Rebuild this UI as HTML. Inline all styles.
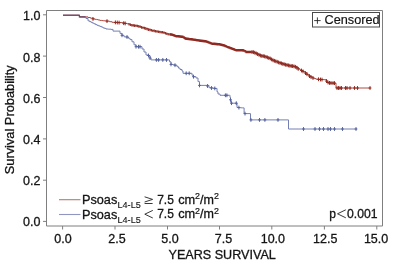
<!DOCTYPE html>
<html><head><meta charset="utf-8">
<style>
html,body{margin:0;padding:0;background:#fff;}
body{width:400px;height:266px;overflow:hidden;position:relative;font-family:"Liberation Sans",sans-serif;}
svg{position:absolute;left:0;top:0;}
text{stroke:#1a1a1a;stroke-width:0.3px;}
.sm{stroke-width:0.12px;}
.sup{stroke-width:0.22px;}
#wrap{position:absolute;left:0;top:0;width:400px;height:266px;will-change:transform;}
</style></head><body><div id="wrap">
<svg width="400" height="266" viewBox="0 0 400 266" font-family="Liberation Sans, sans-serif">
<rect x="0" y="0" width="400" height="266" fill="#fff"/>
<g stroke="#7f7f7f" stroke-width="1" fill="none">
<path d="M46.5 10.5 H382.5 V226 M46.5 10.5 V226 H382.5"/>
<path d="M43 14.8 H46.5 M43 56.1 H46.5 M43 97.5 H46.5 M43 138.9 H46.5 M43 180.2 H46.5 M43 221.4 H46.5"/>
<path d="M62.6 226 V229.5 M115 226 V229.5 M167.5 226 V229.5 M219.5 226 V229.5 M271.8 226 V229.5 M324.4 226 V229.5 M376.8 226 V229.5"/>
</g>
<g font-size="12.5" fill="#111" text-anchor="end">
<text x="40.4" y="20.4">1.0</text>
<text x="40.4" y="62">0.8</text>
<text x="40.4" y="102.8">0.6</text>
<text x="40.4" y="144.3">0.4</text>
<text x="40.4" y="184.8">0.2</text>
<text x="40.4" y="226.3">0.0</text>
</g>
<g font-size="12.5" fill="#111" text-anchor="middle">
<text x="63" y="242.8">0.0</text>
<text x="117" y="242.8">2.5</text>
<text x="170" y="242.8">5.0</text>
<text x="223.4" y="242.8">7.5</text>
<text x="272.9" y="242.8">10.0</text>
<text x="325.2" y="242.8">12.5</text>
<text x="376.1" y="242.8">15.0</text>
</g>
<text x="222.2" y="258.6" font-size="12.6" fill="#111" text-anchor="middle">YEARS SURVIVAL</text>
<text transform="translate(14.2,119.8) rotate(-90)" font-size="12.8" fill="#111" text-anchor="middle">Survival Probability</text>
<path d="M63.0 15.2 L79.0 15.2 L79.5 15.2 L79.5 16.9 L81.8 16.9 L81.8 16.9 L84.0 16.9 L84.0 17.0 L86.0 17.0 L86.0 18.5 L88.0 18.5 L88.0 20.8 L89.5 20.8 L89.5 21.6 L91.0 21.6 L91.0 22.3 L92.5 22.3 L92.5 23.1 L94.0 23.1 L94.0 23.8 L95.5 23.8 L95.5 24.6 L97.0 24.6 L97.0 25.3 L98.5 25.3 L98.5 25.9 L100.0 25.9 L100.0 26.4 L101.5 26.4 L101.5 27.1 L103.0 27.1 L103.0 27.9 L104.5 27.9 L104.5 28.4 L106.0 28.4 L106.0 29.0 L108.5 29.0 L108.5 29.2 L111.0 29.2 L111.0 29.4 L113.0 29.4 L113.0 31.1 L118.0 31.1 L120.0 31.1 L120.0 33.4 L122.0 33.4 L122.0 35.3 L124.0 35.3 L124.0 36.8 L125.5 36.8 L125.5 36.9 L127.0 36.9 L127.0 37.0 L128.5 37.0 L128.5 38.3 L130.0 38.3 L130.0 39.6 L132.0 39.6 L132.0 41.8 L134.0 41.8 L134.0 44.8 L136.0 44.8 L136.0 46.7 L140.0 46.7 L142.0 46.7 L142.0 49.0 L144.0 49.0 L144.0 52.0 L146.0 52.0 L146.0 55.0 L148.5 55.0 L148.5 55.5 L150.0 55.5 L150.0 58.0 L151.0 58.0 L151.0 59.9 L169.5 59.9 L169.5 61.8 L171.0 61.8 L171.0 64.4 L173.0 64.4 L173.0 64.8 L175.0 64.8 L175.0 65.2 L177.0 65.2 L177.0 66.7 L178.5 66.7 L178.5 68.1 L180.0 68.1 L180.0 69.5 L182.0 69.5 L182.0 71.0 L183.0 71.0 L183.0 73.3 L191.0 73.3 L192.0 73.3 L192.0 75.2 L193.5 75.2 L193.5 76.7 L196.0 76.7 L196.0 78.0 L198.0 78.0 L198.0 81.6 L199.5 81.6 L199.5 85.4 L207.0 85.4 L209.0 85.4 L209.0 87.7 L211.0 87.7 L211.0 87.9 L213.0 87.9 L213.0 88.2 L215.0 88.2 L215.0 88.4 L217.0 88.4 L217.0 91.8 L218.0 91.8 L218.0 94.0 L220.0 94.0 L220.0 95.3 L229.5 95.3 L230.0 95.3 L230.0 97.5 L230.5 97.5 L230.5 99.8 L231.0 99.8 L231.0 103.2 L236.5 103.2 L237.0 103.2 L237.0 107.5 L238.8 107.5 L238.8 107.6 L240.6 107.6 L240.6 107.8 L242.3 107.8 L242.3 107.9 L244.1 107.9 L244.1 108.0 L244.1 113.6 L250.5 113.6 L250.5 119.9 L288.5 119.9 L288.5 129.0 L357.0 129.0" stroke="#7480b4" stroke-width="1" fill="none"/>
<path d="M122.0 33.4 V37.2 M120.6 35.3 H123.4 M127.0 35.1 V38.9 M125.6 37.0 H128.4 M136.0 44.8 V48.6 M134.6 46.7 H137.4 M138.5 44.8 V48.6 M137.1 46.7 H139.9 M140.0 44.8 V48.6 M138.6 46.7 H141.4 M148.5 53.6 V57.4 M147.1 55.5 H149.9 M150.0 56.1 V59.9 M148.6 58.0 H151.4 M156.4 58.0 V61.8 M155.0 59.9 H157.8 M158.6 58.0 V61.8 M157.2 59.9 H160.0 M162.8 58.0 V61.8 M161.4 59.9 H164.2 M166.5 58.0 V61.8 M165.1 59.9 H167.9 M171.0 62.5 V66.3 M169.6 64.4 H172.4 M175.0 63.3 V67.1 M173.6 65.2 H176.4 M186.2 71.4 V75.2 M184.8 73.3 H187.6 M189.2 71.4 V75.2 M187.8 73.3 H190.6 M193.5 74.8 V78.6 M192.1 76.7 H194.9 M199.5 83.5 V87.3 M198.1 85.4 H200.9 M207.5 84.1 V87.9 M206.1 86.0 H208.9 M211.5 86.1 V89.9 M210.1 88.0 H212.9 M214.8 86.5 V90.3 M213.4 88.4 H216.2 M225.4 93.4 V97.2 M224.0 95.3 H226.8 M226.9 93.4 V97.2 M225.5 95.3 H228.3 M230.5 97.9 V101.7 M229.1 99.8 H231.9 M231.5 101.3 V105.1 M230.1 103.2 H232.9 M236.3 101.3 V105.1 M234.9 103.2 H237.7 M238.9 105.7 V109.5 M237.5 107.6 H240.3 M245.0 111.7 V115.5 M243.6 113.6 H246.4 M250.9 118.0 V121.8 M249.5 119.9 H252.3 M259.5 118.0 V121.8 M258.1 119.9 H260.9 M264.9 118.0 V121.8 M263.5 119.9 H266.3 M278.0 118.0 V121.8 M276.6 119.9 H279.4 M303.5 127.1 V130.9 M302.1 129.0 H304.9 M315.0 127.1 V130.9 M313.6 129.0 H316.4 M319.5 127.1 V130.9 M318.1 129.0 H320.9 M323.5 127.1 V130.9 M322.1 129.0 H324.9 M328.0 127.1 V130.9 M326.6 129.0 H329.4 M330.5 127.1 V130.9 M329.1 129.0 H331.9 M334.5 127.1 V130.9 M333.1 129.0 H335.9 M342.5 127.1 V130.9 M341.1 129.0 H343.9 M356.0 127.1 V130.9 M354.6 129.0 H357.4 " stroke="#56629a" stroke-width="1" fill="none"/>
<path d="M63.0 15.2 L79.0 15.2 L79.5 15.2 L79.5 16.9 L85.5 16.9 L88.0 16.9 L88.0 17.5 L90.5 17.5 L90.5 18.2 L93.0 18.2 L93.0 18.9 L94.8 18.9 L94.8 19.3 L96.5 19.3 L96.5 19.6 L98.2 19.6 L98.2 20.0 L100.0 20.0 L100.0 20.4 L101.8 20.4 L101.8 20.6 L103.5 20.6 L103.5 20.8 L105.2 20.8 L105.2 20.9 L107.0 20.9 L107.0 21.1 L109.5 21.1 L109.5 21.7 L112.0 21.7 L112.0 22.3 L114.0 22.3 L114.0 22.4 L116.0 22.4 L116.0 22.5 L118.0 22.5 L118.0 22.5 L120.0 22.5 L120.0 22.6 L122.5 22.6 L122.5 23.0 L125.0 23.0 L125.0 23.4 L127.0 23.4 L127.0 23.8 L129.0 23.8 L129.0 24.2 L130.5 24.2 L130.5 24.8 L132.0 24.8 L132.0 25.3 L134.0 25.3 L134.0 25.5 L136.0 25.5 L136.0 25.7 L137.5 25.7 L137.5 26.0 L139.0 26.0 L139.0 26.4 L140.5 26.4 L140.5 26.9 L142.0 26.9 L142.0 27.5 L144.0 27.5 L144.0 27.9 L146.0 27.9 L146.0 28.6 L148.0 28.6 L148.0 29.4 L150.0 29.4 L150.0 29.9 L152.0 29.9 L152.0 30.5 L154.0 30.5 L154.0 30.9 L156.0 30.9 L156.0 31.3 L158.0 31.3 L158.0 31.6 L160.0 31.6 L160.0 32.0 L161.5 32.0 L161.5 32.2 L163.0 32.2 L163.0 32.4 L165.0 32.4 L165.0 33.2 L166.5 33.2 L166.5 33.7 L168.0 33.7 L168.0 34.2 L170.0 34.2 L170.0 34.4 L172.0 34.4 L172.0 34.6 L174.0 34.6 L174.0 35.4 L176.0 35.4 L176.0 36.2 L178.0 36.2 L178.0 36.4 L180.0 36.4 L180.0 36.5 L181.5 36.5 L181.5 36.7 L183.0 36.7 L183.0 36.9 L185.0 36.9 L185.0 38.4 L187.5 38.4 L187.5 38.8 L190.0 38.8 L190.0 39.2 L191.5 39.2 L191.5 39.4 L193.0 39.4 L193.0 39.5 L194.5 39.5 L194.5 39.8 L196.0 39.8 L196.0 40.0 L198.0 40.0 L198.0 40.3 L200.0 40.3 L200.0 40.6 L201.5 40.6 L201.5 40.8 L203.0 40.8 L203.0 41.0 L204.5 41.0 L204.5 41.2 L206.0 41.2 L206.0 41.4 L207.5 41.4 L207.5 42.0 L209.0 42.0 L209.0 42.5 L210.5 42.5 L210.5 43.1 L212.0 43.1 L212.0 43.7 L214.0 43.7 L214.0 43.9 L216.0 43.9 L216.0 44.0 L218.0 44.0 L218.0 44.2 L220.0 44.2 L220.0 44.4 L222.0 44.4 L222.0 44.9 L224.0 44.9 L224.0 45.4 L225.5 45.4 L225.5 46.1 L227.0 46.1 L227.0 46.8 L228.5 46.8 L228.5 47.3 L230.0 47.3 L230.0 47.9 L231.5 47.9 L231.5 48.5 L233.0 48.5 L233.0 49.0 L234.5 49.0 L234.5 49.6 L236.0 49.6 L236.0 50.2 L240.0 50.2 L242.0 50.2 L242.0 50.4 L244.0 50.4 L244.0 50.5 L246.0 50.5 L246.0 52.0 L253.0 52.0 L255.0 52.0 L255.0 52.8 L256.5 52.8 L256.5 53.5 L258.0 53.5 L258.0 54.3 L259.5 54.3 L259.5 55.0 L261.0 55.0 L261.0 55.8 L262.5 55.8 L262.5 56.0 L264.0 56.0 L264.0 56.2 L265.5 56.2 L265.5 56.8 L267.0 56.8 L267.0 57.3 L268.5 57.3 L268.5 57.8 L270.0 57.8 L270.0 58.4 L271.5 58.4 L271.5 59.3 L273.0 59.3 L273.0 60.3 L274.5 60.3 L274.5 60.8 L276.0 60.8 L276.0 61.4 L277.5 61.4 L277.5 62.0 L279.0 62.0 L279.0 62.5 L281.5 62.5 L281.5 63.4 L284.0 63.4 L284.0 64.3 L285.5 64.3 L285.5 64.7 L287.0 64.7 L287.0 65.0 L288.5 65.0 L288.5 65.4 L290.0 65.4 L290.0 65.8 L291.5 65.8 L291.5 66.0 L293.0 66.0 L293.0 66.2 L294.5 66.2 L294.5 66.6 L296.0 66.6 L296.0 66.9 L298.0 66.9 L298.0 68.8 L300.0 68.8 L300.0 69.9 L302.0 69.9 L302.0 70.7 L303.5 70.7 L303.5 71.7 L305.0 71.7 L305.0 72.7 L307.0 72.7 L307.0 74.3 L308.5 74.3 L308.5 75.4 L310.0 75.4 L310.0 76.5 L311.5 76.5 L311.5 77.2 L313.0 77.2 L313.0 78.0 L314.5 78.0 L314.5 78.6 L316.0 78.6 L316.0 79.2 L318.5 79.2 L318.5 79.3 L321.0 79.3 L321.0 79.5 L323.5 79.5 L323.5 79.7 L326.0 79.7 L326.0 79.9 L327.0 79.9 L327.0 82.2 L328.5 82.2 L328.5 82.6 L330.0 82.6 L330.0 83.0 L331.8 83.0 L331.8 83.0 L333.7 83.0 L333.7 83.1 L335.5 83.1 L335.5 83.1 L336.0 83.1 L336.0 88.0 L370.5 88.0" stroke="#b04a40" stroke-width="1" fill="none"/>
<path d="M93.0 17.0 V20.8 M91.6 18.9 H94.4 M107.0 19.2 V23.0 M105.6 21.1 H108.4 M115.4 20.5 V24.3 M114.0 22.4 H116.8 M117.3 20.6 V24.4 M115.9 22.5 H118.7 M119.1 20.7 V24.5 M117.7 22.6 H120.5 M123.7 21.3 V25.1 M122.3 23.2 H125.1 M125.2 21.5 V25.3 M123.8 23.4 H126.6 M252.0 50.1 V53.9 M250.6 52.0 H253.4 M253.4 50.3 V54.1 M252.0 52.2 H254.8 M254.8 50.8 V54.6 M253.4 52.7 H256.2 M256.2 51.5 V55.3 M254.8 53.4 H257.6 M257.6 52.2 V56.0 M256.2 54.1 H259.0 M259.0 52.9 V56.7 M257.6 54.8 H260.4 M260.4 53.6 V57.4 M259.0 55.5 H261.8 M261.8 54.0 V57.8 M260.4 55.9 H263.2 M263.2 54.2 V58.0 M261.8 56.1 H264.6 M264.6 54.5 V58.3 M263.2 56.4 H266.0 M266.0 55.0 V58.8 M264.6 56.9 H267.4 M267.4 55.5 V59.3 M266.0 57.4 H268.8 M268.8 56.1 V59.9 M267.4 58.0 H270.2 M270.2 56.6 V60.4 M268.8 58.5 H271.6 M271.6 57.5 V61.3 M270.2 59.4 H273.0 M273.0 58.4 V62.2 M271.6 60.3 H274.4 M274.4 58.9 V62.7 M273.0 60.8 H275.8 M275.8 59.4 V63.2 M274.4 61.3 H277.2 M277.2 59.9 V63.7 M275.8 61.8 H278.6 M278.6 60.5 V64.3 M277.2 62.4 H280.0 M280.0 61.0 V64.8 M278.6 62.9 H281.4 M281.4 61.5 V65.3 M280.0 63.4 H282.8 M282.8 62.0 V65.8 M281.4 63.9 H284.2 M284.2 62.4 V66.2 M282.8 64.3 H285.6 M285.6 62.8 V66.6 M284.2 64.7 H287.0 M287.0 63.1 V66.9 M285.6 65.0 H288.4 M288.4 63.5 V67.3 M287.0 65.4 H289.8 M289.8 63.8 V67.6 M288.4 65.7 H291.2 M291.2 64.1 V67.9 M289.8 66.0 H292.6 M292.6 64.2 V68.0 M291.2 66.1 H294.0 M294.0 64.5 V68.3 M292.6 66.4 H295.4 M295.4 64.9 V68.7 M294.0 66.8 H296.8 M296.8 65.8 V69.6 M295.4 67.7 H298.2 M298.2 67.0 V70.8 M296.8 68.9 H299.6 M301.5 68.6 V72.4 M300.1 70.5 H302.9 M303.0 69.5 V73.3 M301.6 71.4 H304.4 M305.5 71.2 V75.0 M304.1 73.1 H306.9 M307.0 72.4 V76.2 M305.6 74.3 H308.4 M309.5 74.2 V78.0 M308.1 76.1 H310.9 M311.0 75.1 V78.9 M309.6 77.0 H312.4 M313.0 76.1 V79.9 M311.6 78.0 H314.4 M318.5 77.4 V81.2 M317.1 79.3 H319.9 M320.5 77.6 V81.4 M319.1 79.5 H321.9 M322.0 77.7 V81.5 M320.6 79.6 H323.4 M326.5 79.2 V83.0 M325.1 81.1 H327.9 M328.0 80.6 V84.4 M326.6 82.5 H329.4 M329.5 81.0 V84.8 M328.1 82.9 H330.9 M331.0 81.1 V84.9 M329.6 83.0 H332.4 M333.0 81.2 V85.0 M331.6 83.1 H334.4 M334.5 81.2 V85.0 M333.1 83.1 H335.9 M337.0 86.1 V89.9 M335.6 88.0 H338.4 M338.5 86.1 V89.9 M337.1 88.0 H339.9 M340.0 86.1 V89.9 M338.6 88.0 H341.4 M341.5 86.1 V89.9 M340.1 88.0 H342.9 M345.5 86.1 V89.9 M344.1 88.0 H346.9 M347.0 86.1 V89.9 M345.6 88.0 H348.4 M350.0 86.1 V89.9 M348.6 88.0 H351.4 M354.5 86.1 V89.9 M353.1 88.0 H355.9 M357.5 86.1 V89.9 M356.1 88.0 H358.9 M370.0 86.1 V89.9 M368.6 88.0 H371.4 " stroke="#8f2a22" stroke-width="1" fill="none"/>
<path d="M129.0 22.9 V25.5 M130.4 23.4 V26.0 M131.8 23.9 V26.5 M133.2 24.1 V26.7 M134.6 24.3 V26.9 M136.0 24.4 V27.0 M137.4 24.7 V27.3 M138.8 25.1 V27.7 M140.2 25.5 V28.1 M141.6 26.1 V28.7 M143.0 26.4 V29.0 M144.4 26.8 V29.4 M145.8 27.3 V29.9 M147.2 27.8 V30.4 M148.6 28.3 V30.9 M150.0 28.6 V31.2 M151.4 29.0 V31.6 M152.8 29.4 V32.0 M154.2 29.6 V32.2 M155.6 29.9 V32.5 M157.0 30.2 V32.8 M158.4 30.4 V33.0 M159.8 30.7 V33.3 M161.2 30.9 V33.5 M162.6 31.0 V33.6 M164.0 31.5 V34.1 M165.4 32.0 V34.6 M166.8 32.5 V35.1 M168.2 32.9 V35.5 M170.0 33.1 V35.7 M171.0 33.2 V35.8 M172.0 33.3 V35.9 M173.0 33.7 V36.3 M174.0 34.1 V36.7 M175.0 34.5 V37.1 M176.0 34.9 V37.5 M177.0 35.0 V37.6 M178.0 35.1 V37.6 M179.0 35.1 V37.7 M180.0 35.2 V37.8 M181.0 35.3 V37.9 M182.0 35.5 V38.1 M183.0 35.6 V38.2 M184.0 36.4 V38.9 M185.0 37.1 V39.7 M186.0 37.3 V39.9 M187.0 37.4 V40.0 M188.0 37.6 V40.2 M189.0 37.7 V40.3 M190.0 37.9 V40.5 M191.0 38.0 V40.6 M192.0 38.1 V40.7 M193.0 38.2 V40.8 M194.0 38.4 V41.0 M195.0 38.5 V41.1 M196.0 38.7 V41.3 M197.0 38.9 V41.4 M198.0 39.0 V41.6 M199.0 39.2 V41.8 M200.0 39.3 V41.9 M201.0 39.4 V42.0 M202.0 39.6 V42.2 M203.0 39.7 V42.3 M204.0 39.8 V42.4 M205.0 40.0 V42.6 M206.0 40.1 V42.7 M207.0 40.5 V43.1 M208.0 40.8 V43.4 M209.0 41.2 V43.8 M210.0 41.6 V44.2 M211.0 42.0 V44.6 M212.0 42.4 V45.0 M213.0 42.5 V45.1 M214.0 42.6 V45.1 M215.0 42.6 V45.2 M216.0 42.7 V45.3 M217.0 42.8 V45.4 M218.0 42.9 V45.5 M219.0 43.0 V45.6 M220.0 43.1 V45.7 M221.0 43.4 V45.9 M222.0 43.6 V46.2 M223.0 43.9 V46.4 M224.0 44.1 V46.7 M225.0 44.6 V47.2 M226.0 45.0 V47.6 M227.0 45.5 V48.1 M228.0 45.9 V48.5 M229.0 46.2 V48.8 M230.0 46.6 V49.2 M231.0 47.0 V49.6 M232.0 47.3 V49.9 M233.0 47.7 V50.3 M234.0 48.1 V50.7 M235.0 48.5 V51.1 M236.0 48.9 V51.5 M237.0 48.9 V51.5 M238.0 48.9 V51.5 M239.0 48.9 V51.5 M240.0 48.9 V51.5 M241.0 49.0 V51.6 M242.0 49.1 V51.6 M243.0 49.1 V51.7 M244.0 49.2 V51.8 M245.0 50.0 V52.5 M246.0 50.7 V53.3 M247.0 50.7 V53.3 M248.0 50.7 V53.3 M249.0 50.7 V53.3 M250.0 50.7 V53.3 M251.0 50.7 V53.3 " stroke="#8f2a22" stroke-width="1.05" fill="none"/>
<path d="M63 15.2 H79.3 V16.9 H85.5" stroke="#6a4a66" stroke-width="1.1" fill="none"/>
<rect x="312.5" y="12.5" width="67" height="14.5" fill="#fff" stroke="#4a4a4a" stroke-width="1"/>
<text x="324.6" y="24.3" font-size="12.7" fill="#111" style="stroke-width:0.18px">Censored</text>
<path d="M314.2 20.6 H320.6 M317.4 17.4 V23.8" stroke="#222" stroke-width="0.9" fill="none"/>
<line x1="59" y1="199.7" x2="80.5" y2="199.7" stroke="#b47a70" stroke-width="1.1"/>
<line x1="59" y1="214.5" x2="80.5" y2="214.5" stroke="#9096c2" stroke-width="1.1"/>
<g fill="#111" font-size="12">
<text x="82" y="204" font-size="12.7">Psoas</text>
<text x="82" y="218.6" font-size="12.7">Psoas</text>
<text x="117.5" y="208.4" font-size="9.1" class="sm">L4-L5</text>
<text x="117.5" y="222.6" font-size="9.1" class="sm">L4-L5</text>
<text x="157.2" y="203.8">7.5</text>
<text x="157.2" y="218.3">7.5</text>
<text x="178.2" y="203.8" font-size="12.8">cm</text>
<text x="178.2" y="218.3" font-size="12.8">cm</text>
<text x="194.9" y="199.4" font-size="8.9" class="sup">2</text>
<text x="194.9" y="213.9" font-size="8.9" class="sup">2</text>
<text x="200" y="203.8" font-size="12.5">/m</text>
<text x="200" y="218.3" font-size="12.5">/m</text>
<text x="213.9" y="199.4" font-size="8.9" class="sup">2</text>
<text x="213.9" y="213.9" font-size="8.9" class="sup">2</text>
<text x="347" y="217.9" font-size="12.2">0.001</text>
<text x="329.2" y="217.9">p</text>
</g>
<g stroke="#222" stroke-width="0.9" fill="none">
<path d="M144.6 196.8 L152.6 199.4 L144.6 202 M144.6 203.5 H152.6"/>
<path d="M152.8 210.4 L144.8 214.2 L152.8 218"/>
<path d="M345.8 209.8 L337.5 213.8 L345.8 217.8"/>
</g>
</svg></div>
</body></html>
